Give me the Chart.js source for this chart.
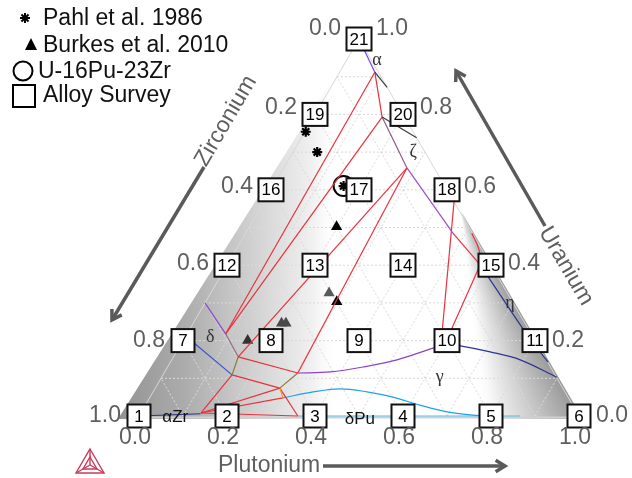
<!DOCTYPE html>
<html>
<head>
<meta charset="utf-8">
<script src="https://cdn.jsdelivr.net/npm/chart.js"></script>
<style>
html,body{margin:0;padding:0;background:#fff;}
#wrap{width:632px;height:478px;}
</style>
</head>
<body>
<div id="wrap"><canvas id="c" width="632" height="478"></canvas></div>
<script>
// All compositions are [Pu, U] mole fractions; Zr = 1 - Pu - U.
const tickValues = [0, 0.2, 0.4, 0.6, 0.8, 1.0];
const tickLabels = ['0.0', '0.2', '0.4', '0.6', '0.8', '1.0'];

// experimental points
const pahl1986 = [[0.002, 0.754], [0.055, 0.700], [0.16, 0.61]];
const burkes2010 = [[0.198, 0.502], [0.269, 0.326], [0.298, 0.303], [0.201, 0.246], [0.211, 0.246], [0.147, 0.200]];
const u16pu23zr = [[0.16, 0.61]];

// alloy survey grid
const surveyIds = [1, 2, 3, 4, 5, 6, 7, 8, 9, 10, 11, 12, 13, 14, 15, 16, 17, 18, 19, 20, 21];
const surveyPu  = [0, 0.2, 0.4, 0.6, 0.8, 1.0, 0, 0.2, 0.4, 0.6, 0.8, 0, 0.2, 0.4, 0.6, 0, 0.2, 0.4, 0, 0.2, 0];
const surveyU   = [0, 0, 0, 0, 0, 0, 0.2, 0.2, 0.2, 0.2, 0.2, 0.4, 0.4, 0.4, 0.4, 0.6, 0.6, 0.6, 0.8, 0.8, 1.0];

// phase boundaries of the isothermal section
const alphaU      = [[0.0, 1.0], [0.080, 0.912]];
const edgeUpper   = [[0.080, 0.912], [0.128, 0.872]];
const edgeLower   = [[0.156, 0.793], [0.262, 0.738]];
const tieP1P2     = [[0.080, 0.912], [0.156, 0.793]];
const zetaUpper   = [[0.156, 0.793], [0.280, 0.658]];
const zetaLower   = [[0.280, 0.658], [0.471, 0.485]];
const tieP1J1     = [[0.080, 0.912], [0.088, 0.218]];
const tieP2J1     = [[0.156, 0.793], [0.088, 0.218]];
const tieP3J2     = [[0.280, 0.658], [0.147, 0.157]];
const tieP3J4     = [[0.280, 0.658], [0.304, 0.114]];
const deltaUpper  = [[0.0, 0.300], [0.088, 0.218]];
const deltaMid    = [[0.088, 0.218], [0.147, 0.157]];
const deltaLow    = [[0.147, 0.157], [0.157, 0.109]];
const tieJ2J4     = [[0.147, 0.157], [0.304, 0.114]];
const tieJ3J5     = [[0.157, 0.109], [0.283, 0.074]];
const tieJ3B1     = [[0.157, 0.109], [0.137, 0.008]];
const gammaJ4J5   = [[0.304, 0.114], [0.283, 0.074]];
const gammaJ5J6   = [[0.283, 0.074], [0.303, 0.048]];
const tieJ5B2     = [[0.283, 0.074], [0.361, 0.0]];
const tieB1J5     = [[0.137, 0.008], [0.283, 0.074]];
const tieB1J6     = [[0.137, 0.008], [0.303, 0.048]];
const tieB1B2     = [[0.137, 0.008], [0.361, 0.0]];
const deltaBlue   = [[0.0, 0.212], [0.157, 0.109]];
const alphaZrBase = [[0.0, 0.0], [0.137, 0.006]];
const gammaLeft   = [[0.304, 0.114], [0.376, 0.117], [0.444, 0.130], [0.512, 0.149], [0.578, 0.180], [0.600, 0.190]];
const gammaRight  = [[0.600, 0.190], [0.637, 0.186], [0.713, 0.170], [0.792, 0.149], [0.898, 0.103]];
const deltaPuDome = [[0.303, 0.048], [0.364, 0.064], [0.421, 0.072], [0.486, 0.064], [0.552, 0.050], [0.624, 0.029], [0.695, 0.011], [0.751, 0.003], [0.798, 0.0]];
const deltaPuBase = [[0.361, 0.0], [0.866, 0.0]];
const etaLine     = [[0.575, 0.401], [0.766, 0.223], [0.858, 0.143]];
const tieEdgeR5   = [[0.432, 0.568], [0.585, 0.205]];
const tieR6       = [[0.575, 0.401], [0.598, 0.205]];
const tieR7       = [[0.471, 0.485], [0.575, 0.401]];
const etaCurve    = [[0.514, 0.485], [0.553, 0.440], [0.575, 0.401]];

// phase labels: text, Pu, U
const phaseLabels = [
  ['\u03b1', 0.069, 0.944, 'serif'],
  ['\u03b6', 0.273, 0.700, 'serif'],
  ['\u03b7', 0.693, 0.300, 'serif'],
  ['\u03b4', 0.057, 0.210, 'serif'],
  ['\u03b3', 0.632, 0.103, 'serif'],
  ['\u03b1Zr', 0.084, -0.003, 'sans'],
  ['\u03b4Pu', 0.506, -0.008, 'sans']
];

const RED = '#e8323c';
const boundaries = [
  [alphaU, '#7a44f0', 0], [edgeUpper, '#3c3c3c', 0], [edgeLower, '#3c3c3c', 0],
  [tieP1P2, RED, 0], [zetaUpper, '#8e5a86', 0], [zetaLower, '#9a4fc8', 0],
  [tieP1J1, RED, 0], [tieP2J1, RED, 0], [tieP3J2, RED, 0], [tieP3J4, RED, 0],
  [deltaUpper, '#8a48d0', 0], [deltaMid, '#9a6a86', 0], [deltaLow, '#8a7d3a', 0],
  [tieJ2J4, RED, 0], [tieJ3J5, RED, 0], [tieJ3B1, RED, 0],
  [gammaJ4J5, '#8a7d3a', 0], [gammaJ5J6, '#e8a030', 0],
  [tieJ5B2, RED, 0], [tieB1J5, RED, 0], [tieB1J6, RED, 0], [tieB1B2, RED, 0],
  [deltaBlue, '#3a50d0', 0], [alphaZrBase, '#2c3590', 0],
  [gammaLeft, '#8b44c8', 0.35], [gammaRight, '#2c3590', 0.35],
  [deltaPuDome, '#1fa3e6', 0.35], [deltaPuBase, '#5ab8ea', 0],
  [etaLine, '#2c3590', 0.3], [tieEdgeR5, RED, 0], [tieR6, RED, 0], [tieR7, RED, 0],
  [etaCurve, RED, 0.4]
];

const toXY = p => ({ x: p[0] + p[1] / 2, y: p[1] });

// scale ranges chosen so the full canvas is the plotting area
const X_MIN = -139 / 440, X_MAX = X_MIN + 632 / 440;
const Y_MAX = 416 / 377, Y_MIN = Y_MAX - 478 / 377;

const datasets = boundaries.map(([pts, color, tension]) => ({
  type: 'scatter', showLine: true, data: pts.map(toXY),
  borderColor: color, borderWidth: 1.2, pointRadius: 0, tension: tension,
  fill: false, clip: false
}));

datasets.push({
  label: 'Pahl et al. 1986', data: pahl1986.map(toXY), pointStyle: 'star',
  pointRadius: 5, borderColor: '#000', borderWidth: 2.2, backgroundColor: '#000', clip: false
});
datasets.push({
  label: 'Burkes et al. 2010', data: burkes2010.map(toXY), pointStyle: 'triangle',
  pointRadius: 6.5, borderWidth: 0,
  backgroundColor: ['#000', '#5a5a5a', '#000', '#4a4a4a', '#4a4a4a', '#333'], clip: false
});
datasets.push({
  label: 'U-16Pu-23Zr', data: u16pu23zr.map(toXY), pointStyle: 'circle',
  pointRadius: 10, borderColor: '#000', borderWidth: 2, backgroundColor: 'rgba(0,0,0,0)', clip: false
});

const FONT = '"Liberation Sans", Arial, sans-serif';
const SERIF = '"Liberation Serif", "Times New Roman", serif';

function pix(chart, pu, u) {
  return [chart.scales.x.getPixelForValue(pu + u / 2), chart.scales.y.getPixelForValue(u)];
}

const backdrop = {
  id: 'backdrop',
  beforeDatasetsDraw(chart) {
    const ctx = chart.ctx;
    const A = pix(chart, 0, 0), B = pix(chart, 1, 0), C = pix(chart, 0, 1);
    ctx.save();
    ctx.beginPath();
    ctx.moveTo(A[0] - 21, A[1] + 3);
    ctx.lineTo(C[0], C[1] - 2);
    ctx.lineTo(B[0] + 4, B[1] + 3);
    ctx.closePath();
    ctx.fillStyle = '#fff';
    ctx.fill();
    ctx.clip();
    const lg = ctx.createLinearGradient(A[0] - 21, 0, A[0] + 201, 0);
    lg.addColorStop(0, '#939393');
    lg.addColorStop(0.3, '#acacac');
    lg.addColorStop(0.5, '#c4c4c4');
    lg.addColorStop(0.7, '#dcdcdc');
    lg.addColorStop(0.88, '#f1f1f1');
    lg.addColorStop(1, 'rgba(255,255,255,0)');
    ctx.fillStyle = lg;
    ctx.fillRect(0, 0, 632, 478);
    const d = Math.PI / 180;
    const cg = ctx.createConicGradient(55 * d, 460, 205);
    cg.addColorStop(0, '#959595');
    cg.addColorStop(6 / 360, '#9c9c9c');
    cg.addColorStop(12 / 360, '#b8b8b8');
    cg.addColorStop(18 / 360, '#d4d4d4');
    cg.addColorStop(24 / 360, '#eeeeee');
    cg.addColorStop(30 / 360, 'rgba(255,255,255,0)');
    cg.addColorStop(1, 'rgba(255,255,255,0)');
    ctx.fillStyle = cg;
    ctx.fillRect(0, 0, 632, 478);
    ctx.restore();

    // composition grid every 0.1
    ctx.save();
    ctx.strokeStyle = '#dadada';
    ctx.lineWidth = 1;
    ctx.setLineDash([2, 2]);
    for (let k = 1; k < 10; k++) {
      const v = k / 10;
      const segs = [
        [[0, v], [1 - v, v]],
        [[v, 0], [v, 1 - v]],
        [[1 - v, 0], [0, 1 - v]]
      ];
      segs.forEach(([p, q]) => {
        const a = pix(chart, p[0], p[1]), b = pix(chart, q[0], q[1]);
        ctx.beginPath(); ctx.moveTo(a[0], a[1]); ctx.lineTo(b[0], b[1]); ctx.stroke();
      });
    }
    ctx.setLineDash([]);
    ctx.strokeStyle = '#d8d8d8';
    ctx.beginPath();
    ctx.moveTo(A[0], A[1]); ctx.lineTo(C[0], C[1]); ctx.lineTo(B[0], B[1]);
    ctx.stroke();
    ctx.strokeStyle = '#d0d0d0';
    ctx.lineWidth = 2;
    ctx.beginPath(); ctx.moveTo(A[0], A[1] + 1.5); ctx.lineTo(B[0], B[1] + 1.5); ctx.stroke();
    ctx.restore();
  }
};

function arrow(ctx, x1, y1, x2, y2) {
  const ang = Math.atan2(y2 - y1, x2 - x1), L = 11, w = 0.55;
  ctx.beginPath(); ctx.moveTo(x1, y1); ctx.lineTo(x2, y2); ctx.stroke();
  ctx.beginPath();
  ctx.moveTo(x2 - L * Math.cos(ang - w), y2 - L * Math.sin(ang - w));
  ctx.lineTo(x2, y2);
  ctx.lineTo(x2 - L * Math.cos(ang + w), y2 - L * Math.sin(ang + w));
  ctx.stroke();
}

function starMark(ctx, x, y, r) {
  ctx.beginPath();
  for (let i = 0; i < 4; i++) {
    const a = i * Math.PI / 4;
    ctx.moveTo(x - r * Math.cos(a), y - r * Math.sin(a));
    ctx.lineTo(x + r * Math.cos(a), y + r * Math.sin(a));
  }
  ctx.stroke();
}

const overlay = {
  id: 'overlay',
  afterDatasetsDraw(chart) {
    const ctx = chart.ctx;
    ctx.save();

    // alloy survey boxes
    ctx.textAlign = 'center';
    ctx.textBaseline = 'middle';
    ctx.font = '17px ' + FONT;
    surveyIds.forEach((id, i) => {
      const [x, y] = pix(chart, surveyPu[i], surveyU[i]);
      const w = id >= 10 ? 25 : 23, h = 23;
      ctx.fillStyle = '#fff';
      ctx.fillRect(x - w / 2, y - h / 2, w, h);
      ctx.strokeStyle = '#111';
      ctx.lineWidth = 2;
      ctx.strokeRect(x - w / 2, y - h / 2, w, h);
      ctx.fillStyle = '#000';
      ctx.fillText(String(id), x, y + 1);
    });

    // phase labels
    phaseLabels.forEach(([t, pu, u, kind]) => {
      const [x, y] = pix(chart, pu, u);
      ctx.font = kind === 'serif' ? '18px ' + SERIF : '17px ' + FONT;
      ctx.fillStyle = kind === 'serif' ? '#333' : '#111';
      ctx.fillText(t, x, y);
    });

    // axis tick labels
    ctx.font = '23px ' + FONT;
    ctx.fillStyle = '#5f5f5f';
    tickValues.forEach((v, i) => {
      const b = pix(chart, v, 0);
      ctx.fillText(tickLabels[i], b[0] - 4, b[1] + 22);
      const l = pix(chart, 0, 1 - v);
      ctx.fillText(tickLabels[i], l[0] - 34, l[1] - 10 * (1 - v) * (1 - v));
      const r = pix(chart, 1 - v, v);
      ctx.fillText(tickLabels[i], r[0] + 33, r[1] - 10 * v * v);
    });

    // axis titles with direction arrows
    ctx.strokeStyle = '#5a5a5a';
    ctx.lineWidth = 3.5;
    ctx.lineCap = 'butt';
    ctx.textAlign = 'left';
    ctx.fillText('Plutonium', 218, 466);
    arrow(ctx, 323, 466, 505, 466);
    const tilt = Math.atan2(377, 220);
    ctx.textAlign = 'center';
    ctx.save();
    ctx.translate(226, 121);
    ctx.rotate(-tilt);
    ctx.fillText('Zirconium', 0, 0);
    ctx.restore();
    arrow(ctx, 204, 167, 112, 320);
    ctx.save();
    ctx.translate(566, 266);
    ctx.rotate(tilt);
    ctx.fillText('Uranium', 0, 0);
    ctx.restore();
    arrow(ctx, 545, 226, 456, 71);

    // legend
    ctx.fillStyle = '#111';
    ctx.textAlign = 'left';
    ctx.font = '23px ' + FONT;
    ctx.strokeStyle = '#000';
    ctx.lineWidth = 2;
    starMark(ctx, 25, 18, 5);
    ctx.fillText('Pahl et al. 1986', 43, 19);
    ctx.beginPath();
    ctx.moveTo(31, 38); ctx.lineTo(37, 50); ctx.lineTo(25, 50); ctx.closePath();
    ctx.fillStyle = '#000'; ctx.fill();
    ctx.fillStyle = '#111';
    ctx.fillText('Burkes et al. 2010', 43, 46);
    ctx.beginPath(); ctx.arc(23, 71, 9.5, 0, Math.PI * 2); ctx.stroke();
    ctx.fillText('U-16Pu-23Zr', 38, 72);
    ctx.strokeRect(13, 85, 22, 22);
    ctx.fillText('Alloy Survey', 43, 96);

    // small program logo
    ctx.strokeStyle = '#c83c5c';
    ctx.lineWidth = 1.4;
    const ax = 90, ay = 449, lx = 76, rx = 104, by = 473, cxm = 90, cym = 465;
    ctx.beginPath(); ctx.moveTo(ax, ay); ctx.lineTo(rx, by); ctx.lineTo(lx, by); ctx.closePath(); ctx.stroke();
    ctx.beginPath();
    ctx.moveTo(ax, ay); ctx.lineTo(cxm, cym);
    ctx.moveTo(lx, by); ctx.lineTo(cxm, cym);
    ctx.moveTo(rx, by); ctx.lineTo(cxm, cym);
    ctx.stroke();
    ctx.beginPath(); ctx.moveTo(90, 457); ctx.lineTo(97, 469); ctx.lineTo(83, 469); ctx.closePath(); ctx.stroke();

    ctx.restore();
  }
};

new Chart(document.getElementById('c'), {
  type: 'scatter',
  data: { datasets: datasets },
  options: {
    responsive: false,
    animation: false,
    events: [],
    layout: { padding: 0, autoPadding: false },
    plugins: { legend: { display: false }, tooltip: { enabled: false } },
    scales: {
      x: { type: 'linear', display: false, min: X_MIN, max: X_MAX },
      y: { type: 'linear', display: false, min: Y_MIN, max: Y_MAX }
    }
  },
  plugins: [backdrop, overlay]
});
</script>
</body>
</html>
